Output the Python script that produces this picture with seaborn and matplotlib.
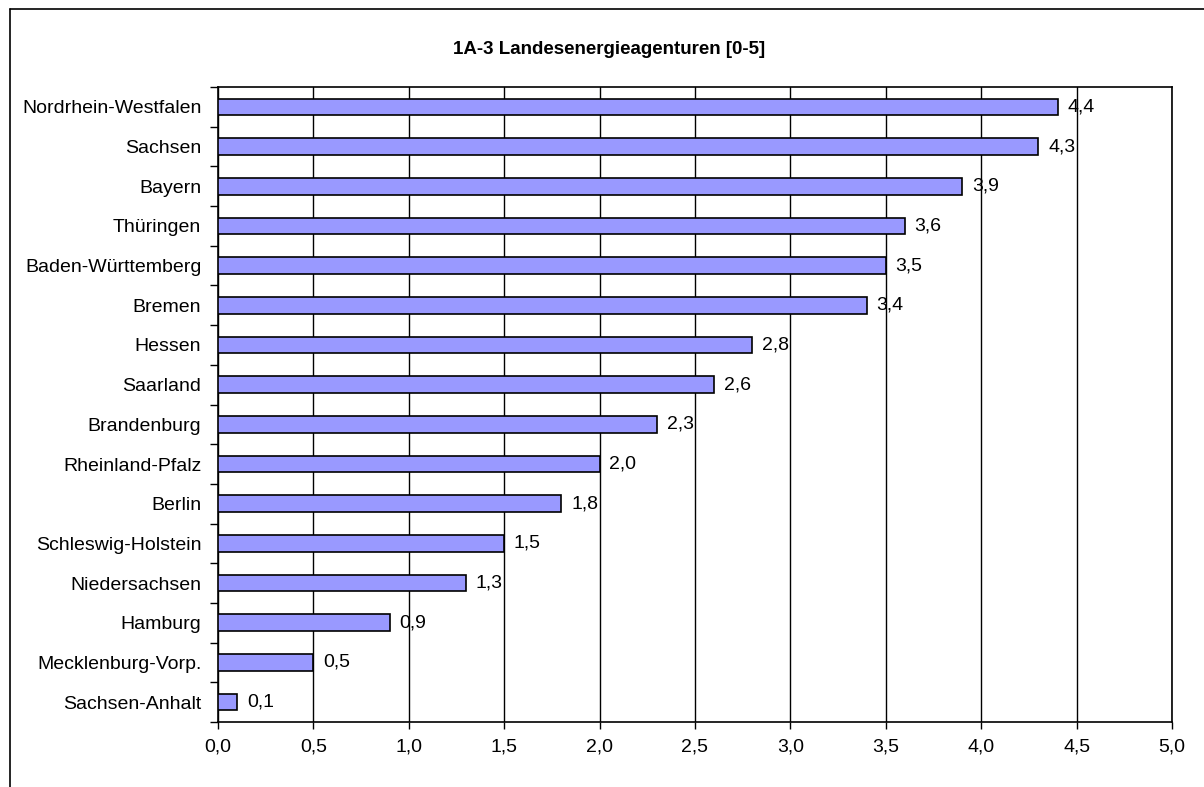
import matplotlib
matplotlib.use("Agg")
import matplotlib.pyplot as plt
from matplotlib.lines import Line2D
from matplotlib.ticker import MultipleLocator, FixedLocator
import seaborn as sns
import pandas as pd
import numpy as np

laender = [
    "Nordrhein-Westfalen", "Sachsen", "Bayern", "Thüringen", "Baden-Württemberg",
    "Bremen", "Hessen", "Saarland", "Brandenburg", "Rheinland-Pfalz", "Berlin",
    "Schleswig-Holstein", "Niedersachsen", "Hamburg", "Mecklenburg-Vorp.",
    "Sachsen-Anhalt",
]
werte = [4.4, 4.3, 3.9, 3.6, 3.5, 3.4, 2.8, 2.6, 2.3, 2.0, 1.8, 1.5, 1.3, 0.9, 0.5, 0.1]
titel = "1A-3 Landesenergieagenturen [0-5]"

df = pd.DataFrame({"land": laender, "wert": werte})

sns.set_style("white")
plt.rcParams["font.family"] = ["Liberation Sans", "DejaVu Sans"]
plt.rcParams["text.color"] = "black"
plt.rcParams["xtick.color"] = "black"
plt.rcParams["ytick.color"] = "black"

fig = plt.figure(figsize=(12.04, 7.87), dpi=100)
ax = fig.add_axes([218 / 1204, 1 - 722 / 787, (1172 - 218) / 1204, (722 - 87) / 787])

sns.barplot(
    data=df, x="wert", y="land", order=laender, orient="h",
    color="#9999FF", saturation=1, width=0.42,
    edgecolor="black", linewidth=1.2, ax=ax, zorder=3,
)

ax.set_xlim(0, 5)
ax.set_ylim(len(laender) - 0.5, -0.5)
ax.xaxis.set_major_locator(MultipleLocator(0.5))
ax.xaxis.grid(True, color="black", linewidth=1, zorder=0)
ax.set_axisbelow(True)
ax.set_xticklabels([f"{t:.1f}".replace(".", ",") for t in ax.get_xticks()], fontsize=14)

# category ticks at the boundaries between bars
ax.yaxis.set_minor_locator(FixedLocator(np.arange(-0.5, len(laender), 1.0)))
ax.tick_params(axis="y", which="major", length=0, labelsize=14, pad=12)
ax.tick_params(axis="y", which="minor", length=6, width=1, color="black", left=True)
ax.tick_params(axis="x", which="major", length=5, width=1, color="black", bottom=True, pad=7)

ax.set_xlabel("")
ax.set_ylabel("")
for s in ax.spines.values():
    s.set_visible(True)
    s.set_color("black")
    s.set_linewidth(1.2)

for i, v in enumerate(werte):
    ax.annotate(f"{v:.1f}".replace(".", ","), xy=(v, i), xytext=(7, 0),
                textcoords="offset points", va="center", ha="left", fontsize=14)

fig.text(609 / 1204, 1 - 50 / 787, titel, ha="center", va="center",
         fontsize=13.5, fontweight="bold")

# outer frame (only left and top visible in the crop)
x0, y0 = 9.5 / 1204, 1 - 8.5 / 787
fig.add_artist(Line2D([x0, x0], [0, y0], transform=fig.transFigure, color="black", lw=1.2))
fig.add_artist(Line2D([x0, 1], [y0, y0], transform=fig.transFigure, color="black", lw=1.2))

fig.savefig("out.png", dpi=100)
